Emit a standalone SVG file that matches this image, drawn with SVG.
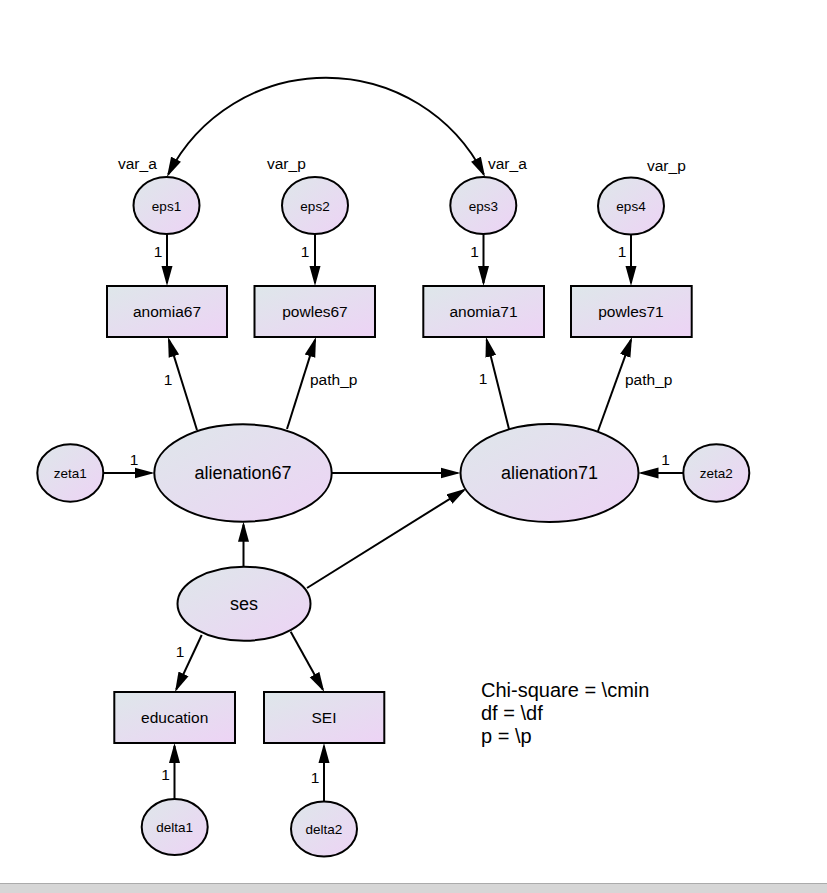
<svg xmlns="http://www.w3.org/2000/svg" width="827" height="893" viewBox="0 0 827 893">
<defs>
<linearGradient id="g" x1="0" y1="0" x2="1" y2="1">
<stop offset="0" stop-color="#dee7ea"/>
<stop offset="1" stop-color="#edd3f5"/>
</linearGradient>
<marker id="ah" markerUnits="userSpaceOnUse" markerWidth="20" markerHeight="12" viewBox="0 0 20 12" refX="17" refY="6" orient="auto-start-reverse">
<path d="M0,0.5 L20,6 L0,11.5 z" fill="#000"/>
</marker>
<style>
.n ellipse,.n rect{fill:url(#g);stroke:#000;stroke-width:2}
.t{font-family:"Liberation Sans",Arial,sans-serif;fill:#000;text-anchor:middle}
.obs{font-size:15.5px}
.lat{font-size:18px}
.err{font-size:13.5px}
.lb{font-family:"Liberation Sans",Arial,sans-serif;font-size:15.5px;fill:#000}
.c{text-anchor:middle}
#edges line,#edges path{stroke:#000;stroke-width:2;fill:none;marker-end:url(#ah)}
</style>
</defs>
<rect x="0" y="0" width="827" height="893" fill="#fff"/>

<g id="edges">
<path d="M168.3,174.3 A177,177 0 0,1 483.7,174.3" style="marker-start:url(#ah)"/>
<line x1="167" y1="234" x2="167" y2="283"/>
<line x1="315" y1="234" x2="315" y2="283"/>
<line x1="483.5" y1="234" x2="483.5" y2="283"/>
<line x1="631" y1="234" x2="631" y2="283"/>
<line x1="197" y1="430" x2="168.9" y2="339.9"/>
<line x1="287" y1="429" x2="315.1" y2="339.9"/>
<line x1="509" y1="429" x2="486.7" y2="339.9"/>
<line x1="598" y1="431" x2="631" y2="339.8"/>
<line x1="103.5" y1="473" x2="151.5" y2="473"/>
<line x1="683" y1="473" x2="641.5" y2="473"/>
<line x1="332" y1="473" x2="457.5" y2="473"/>
<line x1="243.5" y1="567" x2="243.5" y2="524.7"/>
<line x1="307" y1="588" x2="463.9" y2="490.1"/>
<line x1="201.7" y1="635" x2="176.3" y2="689.3"/>
<line x1="290.7" y1="631.7" x2="322.8" y2="689.4"/>
<line x1="174.5" y1="799" x2="174.5" y2="746"/>
<line x1="324" y1="802" x2="324" y2="746"/>
</g>

<g id="eps1" class="n"><ellipse cx="166.5" cy="205.5" rx="33" ry="28.5"/><text class="t err" x="166.5" y="210.5">eps1</text></g>
<g id="eps2" class="n"><ellipse cx="315" cy="205.5" rx="33" ry="28.5"/><text class="t err" x="315" y="210.5">eps2</text></g>
<g id="eps3" class="n"><ellipse cx="483.3" cy="205.5" rx="33" ry="28.5"/><text class="t err" x="483.3" y="210.5">eps3</text></g>
<g id="eps4" class="n"><ellipse cx="631" cy="206" rx="33" ry="28.5"/><text class="t err" x="631" y="211">eps4</text></g>

<g id="anomia67" class="n"><rect x="107" y="286" width="120" height="51"/><text class="t obs" x="167" y="317">anomia67</text></g>
<g id="powles67" class="n"><rect x="254.5" y="286" width="120.5" height="51"/><text class="t obs" x="315" y="317">powles67</text></g>
<g id="anomia71" class="n"><rect x="423.3" y="286" width="120.7" height="51"/><text class="t obs" x="483.5" y="317">anomia71</text></g>
<g id="powles71" class="n"><rect x="571" y="286" width="120.7" height="51"/><text class="t obs" x="631" y="317">powles71</text></g>

<g id="alienation67" class="n"><ellipse cx="243" cy="473" rx="88.7" ry="48.7"/><text class="t lat" x="243" y="479.3">alienation67</text></g>
<g id="alienation71" class="n"><ellipse cx="549.5" cy="473" rx="89" ry="49"/><text class="t lat" x="549.5" y="479.3">alienation71</text></g>
<g id="zeta1" class="n"><ellipse cx="70.3" cy="473" rx="33" ry="28.7"/><text class="t err" x="70.3" y="478">zeta1</text></g>
<g id="zeta2" class="n"><ellipse cx="716.3" cy="473" rx="33" ry="28.7"/><text class="t err" x="716.3" y="478">zeta2</text></g>

<g id="ses" class="n"><ellipse cx="244" cy="603.7" rx="66.5" ry="37"/><text class="t lat" x="244" y="610">ses</text></g>
<g id="education" class="n"><rect x="114.3" y="692" width="120.7" height="51"/><text class="t obs" x="174.7" y="723">education</text></g>
<g id="SEI" class="n"><rect x="264" y="692" width="120.3" height="51"/><text class="t obs" x="324" y="723">SEI</text></g>
<g id="delta1" class="n"><ellipse cx="174.7" cy="827" rx="33" ry="28"/><text class="t err" x="174.7" y="832">delta1</text></g>
<g id="delta2" class="n"><ellipse cx="324" cy="829" rx="33" ry="27.5"/><text class="t err" x="324" y="834">delta2</text></g>

<g id="labels">
<text class="lb" x="118" y="169">var_a</text>
<text class="lb" x="267" y="169">var_p</text>
<text class="lb" x="488" y="169">var_a</text>
<text class="lb" x="647" y="171">var_p</text>
<text class="lb c" x="158" y="257">1</text>
<text class="lb c" x="305" y="257">1</text>
<text class="lb c" x="474.5" y="257">1</text>
<text class="lb c" x="622" y="257">1</text>
<text class="lb c" x="168" y="385">1</text>
<text class="lb" x="310" y="385">path_p</text>
<text class="lb c" x="483" y="384">1</text>
<text class="lb" x="625" y="385">path_p</text>
<text class="lb c" x="134" y="465">1</text>
<text class="lb c" x="665.5" y="465">1</text>
<text class="lb c" x="180" y="657">1</text>
<text class="lb c" x="165.5" y="780">1</text>
<text class="lb c" x="315" y="783">1</text>
</g>

<g id="fit" font-family="Liberation Sans, Arial, sans-serif" font-size="20" fill="#000">
<text x="481" y="697">Chi-square = \cmin</text>
<text x="481" y="720">df = \df</text>
<text x="481" y="743">p = \p</text>
</g>

<rect x="0" y="883" width="827" height="10" fill="#d6d6d6"/>
<line x1="0" y1="883.5" x2="827" y2="883.5" stroke="#ababab" stroke-width="1"/>
</svg>
